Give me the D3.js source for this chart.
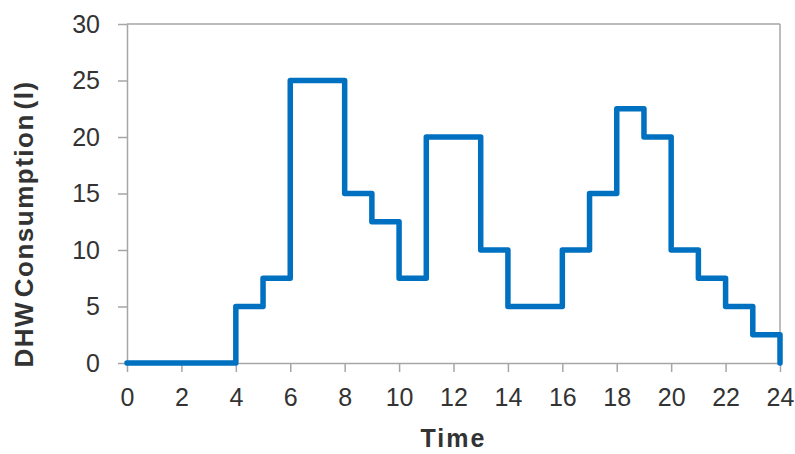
<!DOCTYPE html>
<html><head><meta charset="utf-8">
<script src="https://cdn.jsdelivr.net/npm/d3@7"></script>
<style>body{margin:0;background:#fff}svg{display:block}</style>
</head><body>
<script>
const hours = [0,1,2,3,4,5,6,7,8,9,10,11,12,13,14,15,16,17,18,19,20,21,22,23,24];
const consumption = [0,0,0,0,5,7.5,25,25,15,12.5,7.5,20,20,10,5,5,10,15,22.5,20,10,7.5,5,2.5,0];
const xTicks = [0,2,4,6,8,10,12,14,16,18,20,22,24];
const yTicks = [0,5,10,15,20,25,30];
const xLabel = "Time";
const yLabel = "DHW Consumption (l)";

const W=795,H=454;
const m={l:127,r:15,t:24,b:91};
const svg=d3.select("body").append("svg").attr("width",W).attr("height",H);
const x=d3.scaleLinear().domain([0,24]).range([m.l,W-m.r]);
const y=d3.scaleLinear().domain([0,30]).range([H-m.b,m.t]);
const grey="#a6a6a6", txt="#333";
const font="Liberation Sans, Arial, sans-serif";

// frame
svg.append("line").attr("x1",x(0)).attr("x2",x(24)).attr("y1",y(30)).attr("y2",y(30)).attr("stroke",grey).attr("stroke-width",1.5);
svg.append("line").attr("x1",x(24)).attr("x2",x(24)).attr("y1",y(30)).attr("y2",y(0)).attr("stroke",grey).attr("stroke-width",1.5);

const xa=svg.append("g").attr("transform",`translate(0,${y(0)})`)
  .call(d3.axisBottom(x).tickValues(xTicks).tickSize(9).tickPadding(16).tickSizeOuter(0));
const ya=svg.append("g").attr("transform",`translate(${x(0)},0)`)
  .call(d3.axisLeft(y).tickValues(yTicks).tickSize(9).tickPadding(18).tickSizeOuter(0));
[xa,ya].forEach(g=>{
  g.select(".domain").attr("stroke",grey).attr("stroke-width",1.5);
  g.selectAll(".tick line").attr("stroke",grey).attr("stroke-width",1.5);
  g.selectAll(".tick text").attr("fill",txt).style("font-family",font).style("font-size","25px");
});

const line=d3.line().x(d=>x(d[0])).y(d=>y(d[1])).curve(d3.curveStepAfter);
svg.append("path").datum(hours.map((h,i)=>[h,consumption[i]]))
  .attr("d",line).attr("fill","none").attr("stroke","#0070C0").attr("stroke-width",5.5)
  .attr("stroke-linejoin","round").attr("stroke-linecap","round");

svg.append("text").attr("x",(x(0)+x(24))/2).attr("y",447).attr("text-anchor","middle")
  .attr("fill",txt).style("font-family",font).style("font-size","25px")
  .style("font-weight","bold").style("letter-spacing","2px").text(xLabel);
svg.append("text").attr("transform",`translate(33,224) rotate(-90)`).attr("text-anchor","middle")
  .attr("fill",txt).style("font-family",font).style("font-size","26px")
  .style("font-weight","bold").style("letter-spacing","1.5px").style("word-spacing","-5px").text(yLabel);
</script>
</body></html>
